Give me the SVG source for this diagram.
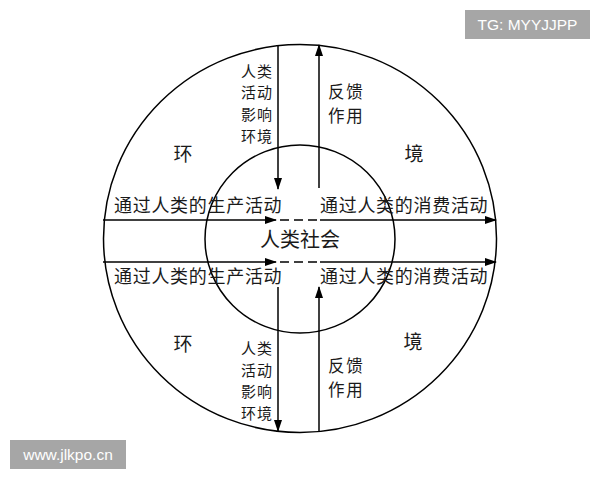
<svg xmlns="http://www.w3.org/2000/svg" width="600" height="480" viewBox="0 0 600 480">
<style>
.ln{stroke:#000;stroke-width:1.5;fill:none}
.ds{stroke:#000;stroke-width:1.5;fill:none;stroke-dasharray:9 5}
.t{font-family:"Noto Sans CJK SC","Noto Sans",sans-serif;fill:#1a1a1a}
.s15{font-size:15px;letter-spacing:1px}
.s16{font-size:16.5px;letter-spacing:1.8px}
.s18{font-size:18px;letter-spacing:0.7px}
.s19{font-size:19px}
.s20{font-size:20px}
.wm{font-family:"Liberation Sans","DejaVu Sans",sans-serif;fill:#fff}
</style>
<defs>
<marker id="ah" markerUnits="userSpaceOnUse" markerWidth="12" markerHeight="8" refX="11" refY="4" orient="auto">
<path d="M0,0 L12,4 L0,8 Z" fill="#000"/>
</marker>
</defs>
<rect width="600" height="480" fill="#fff"/>
<g id="outer"><ellipse class="ln" cx="300" cy="238.5" rx="196.5" ry="194"/></g>
<g id="inner"><ellipse class="ln" cx="300" cy="239" rx="95" ry="94"/></g>
<g id="connectors">
<line class="ln" x1="103" y1="220" x2="276" y2="220" marker-end="url(#ah)"/>
<line class="ds" x1="280" y1="220" x2="320" y2="220"/>
<line class="ln" x1="320" y1="220" x2="496" y2="220" marker-end="url(#ah)"/>
<line class="ln" x1="103" y1="262" x2="276" y2="262" marker-end="url(#ah)"/>
<line class="ds" x1="280" y1="262" x2="320" y2="262"/>
<line class="ln" x1="320" y1="262" x2="496" y2="262" marker-end="url(#ah)"/>
<line class="ln" x1="278" y1="46" x2="278" y2="189" marker-end="url(#ah)"/>
<line class="ln" x1="319" y1="188" x2="319" y2="45" marker-end="url(#ah)"/>
<line class="ln" x1="278" y1="287" x2="278" y2="431" marker-end="url(#ah)"/>
<line class="ln" x1="319" y1="432" x2="319" y2="287" marker-end="url(#ah)"/>
</g>
<g id="society"><text class="t s20" x="300" y="247" text-anchor="middle">人类社会</text></g>
<g id="labels-h">
<text class="t s18" x="114" y="212">通过人类的生产活动</text>
<text class="t s18" x="320" y="212">通过人类的消费活动</text>
<text class="t s18" x="114" y="283">通过人类的生产活动</text>
<text class="t s18" x="320" y="283">通过人类的消费活动</text>
</g>
<g id="env">
<text class="t s19" x="183" y="161" text-anchor="middle">环</text>
<text class="t s19" x="414" y="161" text-anchor="middle">境</text>
<text class="t s19" x="183" y="351" text-anchor="middle">环</text>
<text class="t s19" x="413" y="349" text-anchor="middle">境</text>
</g>
<g id="impact-top">
<text class="t s15" text-anchor="end"><tspan x="273" y="76.5">人类</tspan><tspan x="273" y="98.2">活动</tspan><tspan x="273" y="119.9">影响</tspan><tspan x="273" y="141.6">环境</tspan></text>
</g>
<g id="impact-bottom">
<text class="t s15" text-anchor="end"><tspan x="273" y="354">人类</tspan><tspan x="273" y="375.7">活动</tspan><tspan x="273" y="397.4">影响</tspan><tspan x="273" y="419.1">环境</tspan></text>
</g>
<g id="feedback-top">
<text class="t s16"><tspan x="328" y="97.5">反馈</tspan><tspan x="328" y="121.6">作用</tspan></text>
</g>
<g id="feedback-bottom">
<text class="t s16"><tspan x="328" y="372">反馈</tspan><tspan x="328" y="396.1">作用</tspan></text>
</g>
<g id="wm1"><rect x="465" y="10" width="125" height="29" fill="#a6a6a6"/><text class="wm" x="527.5" y="30" font-size="15.5" text-anchor="middle">TG: MYYJJPP</text></g>
<g id="wm2"><rect x="10" y="440" width="116" height="29" fill="#a6a6a6"/><text class="wm" x="68" y="460" font-size="15.5" text-anchor="middle">www.jlkpo.cn</text></g>
</svg>
